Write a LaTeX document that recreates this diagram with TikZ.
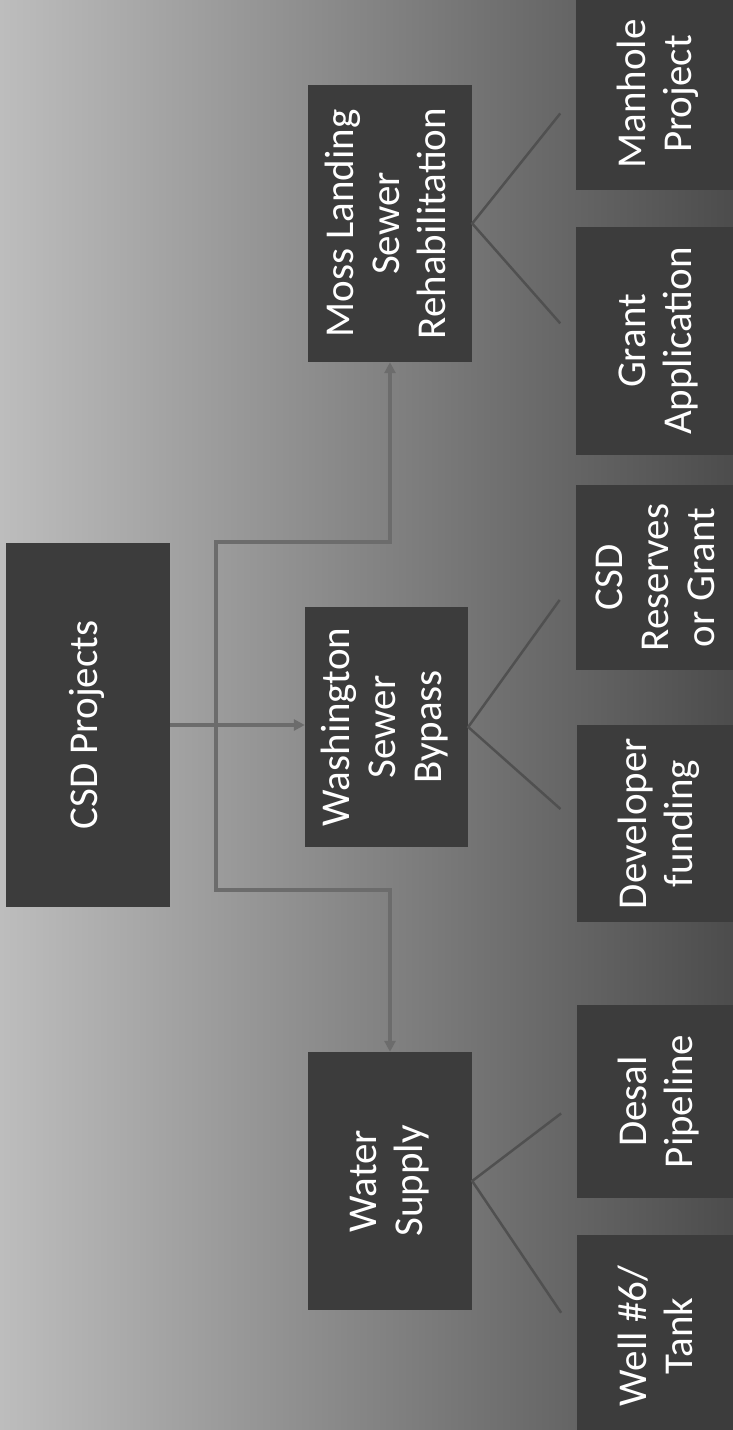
\documentclass[tikz,border=0pt]{standalone}
\usepackage{fontspec}
\setmainfont{Carlito}
\usetikzlibrary{arrows.meta,calc}
\definecolor{bgleft}{HTML}{BDBDBD}
\definecolor{bgmid}{HTML}{939393}
\definecolor{bgright}{HTML}{4C4C4C}
\definecolor{boxc}{HTML}{3C3C3C}
\definecolor{connc}{HTML}{6C6C6C}
\definecolor{diagc}{HTML}{505050}
\newcommand\rottext[1]{\rotatebox{90}{\fontsize{41pt}{46pt}\selectfont\begin{tabular}{@{}c@{}}#1\end{tabular}}}
\begin{document}
\begin{tikzpicture}[x=1pt,y=-1pt,
  box/.style={fill=boxc, inner sep=0pt, text=white, font=\fontsize{41pt}{46pt}\selectfont},
  conn/.style={draw=connc, line width=4.5pt, line join=miter},
  diag/.style={draw=diagc, line width=2.5pt},
  tip/.style={-{Triangle[length=11pt,width=11pt]}}]
\useasboundingbox (0,0) rectangle (733,1430);
\clip (0,0) rectangle (733,1430);
\shade[left color=bgleft, middle color=bgmid, right color=bgright] (0,0) rectangle (733,1430);
% top level
\node[box, minimum width=164pt, minimum height=364pt] (csd) at (88,725) {\rottext{CSD Projects}};
% second level
\node[box, minimum width=164pt, minimum height=277pt] (moss) at (390,223.5) {\rottext{Moss Landing\\Sewer\\Rehabilitation}};
\node[box, minimum width=163pt, minimum height=240pt] (wash) at (386.5,727) {\rottext{Washington\\Sewer\\Bypass}};
\node[box, minimum width=164pt, minimum height=258pt] (water) at (390,1181) {\rottext{Water\\Supply}};
% leaves
\node[box, minimum width=166pt, minimum height=192pt] (manhole) at (659,94) {\rottext{Manhole\\Project}};
\node[box, minimum width=166pt, minimum height=228pt] (grant) at (659,341) {\rottext{Grant\\Application}};
\node[box, minimum width=166pt, minimum height=185pt] (reserves) at (659,577.5) {\rottext{CSD\\Reserves\\or Grant}};
\node[box, minimum width=166pt, minimum height=197pt] (developer) at (660,823.5) {\rottext{Developer\\funding}};
\node[box, minimum width=166pt, minimum height=193pt] (desal) at (660,1101.5) {\rottext{Desal\\Pipeline}};
\node[box, minimum width=166pt, minimum height=202pt] (well) at (660,1336) {\rottext{Well \#6/\\Tank}};
% connectors
\coordinate (bt) at (216,542);
\coordinate (bb) at (216,890);
\draw[conn, {Triangle[length=11pt,width=11pt]}-{Triangle[length=11pt,width=11pt]}]
  (moss.south) -- (bt -| moss.south) -- (bt) -- (bb) -- (bb -| water.north) -- (water.north);
\draw[conn, tip] (csd.east) -- (csd.east -| wash.west);
% diagonal connectors to leaves
\draw[diag] ($(moss.east)!0.85!(manhole.west)$) -- (moss.east) -- ($(moss.east)!0.85!(grant.west)$);
\draw[diag] ($(wash.east)!0.85!(reserves.west)$) -- (wash.east) -- ($(wash.east)!0.85!(developer.west)$);
\draw[diag] ($(water.east)!0.85!(desal.west)$) -- (water.east) -- ($(water.east)!0.85!(well.west)$);
\end{tikzpicture}
\end{document}
